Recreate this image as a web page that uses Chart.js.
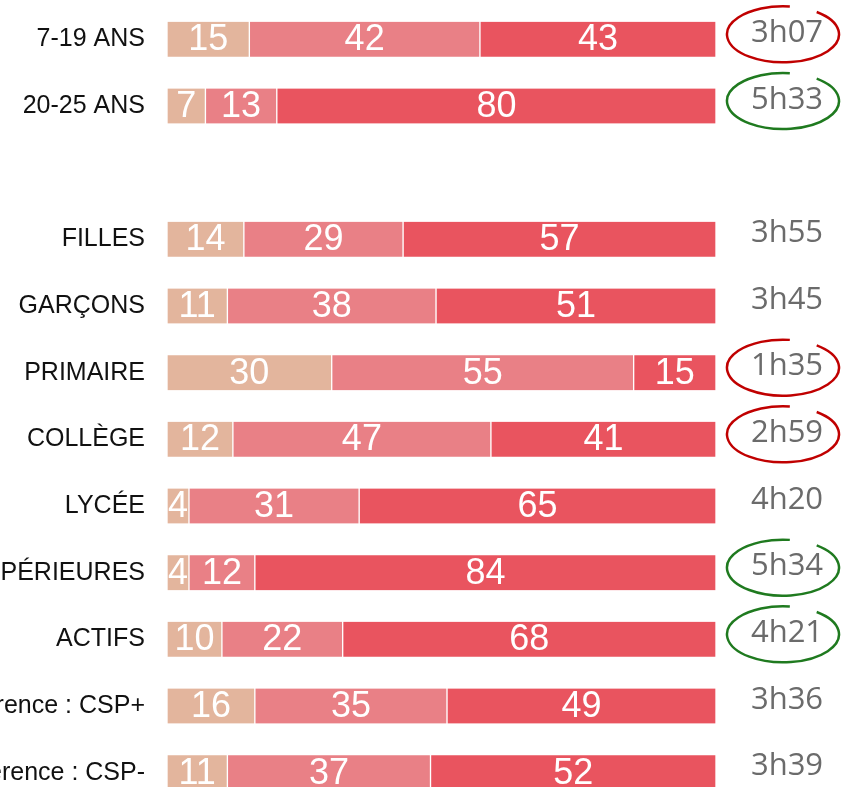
<!DOCTYPE html>
<html>
<head>
<meta charset="utf-8">
<script src="https://cdn.jsdelivr.net/npm/chart.js@4"></script>
<style>
  html, body { margin: 0; padding: 0; background: #fff; overflow: hidden; }
  #wrap { position: relative; width: 841px; height: 812px; }
</style>
</head>
<body>
<div id="wrap"><canvas id="chart"></canvas></div>
<script>
// categories (the empty one is the gap between the age rows and the others)
const categories = ['7-19 ANS', '20-25 ANS', '', 'FILLES', 'GARÇONS', 'PRIMAIRE', 'COLLÈGE', 'LYCÉE',
  'SUPÉRIEURES', 'ACTIFS', 'Référence : CSP+', 'Référence : CSP-'];

// shares (%) for the three segments of each bar
const share1 = [15, 7, null, 14, 11, 30, 12, 4, 4, 10, 16, 11];
const share2 = [42, 13, null, 29, 38, 55, 47, 31, 12, 22, 35, 37];
const share3 = [43, 80, null, 57, 51, 15, 41, 65, 84, 68, 49, 52];

// time shown at the right of each bar, and which ones are circled
const durations = ['3h07', '5h33', '', '3h55', '3h45', '1h35', '2h59', '4h20', '5h34', '4h21', '3h36', '3h39'];
const highlight = ['low', 'high', null, null, null, 'low', 'low', null, 'high', 'high', null, null];

const colors = ['#E3B59D', '#E98086', '#E9545F'];
const circleColors = { low: '#C00000', high: '#1F7A1F' };

// white numbers inside the segments
const segmentLabels = {
  id: 'segmentLabels',
  afterDatasetsDraw(chart) {
    const ctx = chart.ctx;
    ctx.save();
    ctx.fillStyle = '#fff';
    ctx.font = '36px "Liberation Sans", Arial, sans-serif';
    ctx.textAlign = 'center';
    ctx.textBaseline = 'middle';
    chart.data.datasets.forEach((ds, i) => {
      chart.getDatasetMeta(i).data.forEach((bar, j) => {
        const v = ds.data[j];
        if (v == null) return;
        const cx = (bar.x + bar.base) / 2;
        ctx.fillText(String(v), cx, bar.y + 1);
      });
    });
    ctx.restore();
  }
};

// durations on the right, with open ellipses around some of them
const durationLabels = {
  id: 'durationLabels',
  afterDraw(chart) {
    const ctx = chart.ctx;
    const y = chart.scales.y;
    ctx.save();
    ctx.font = '31px "Open Sans", sans-serif';
    ctx.fillStyle = '#6B6B6B';
    ctx.textAlign = 'center';
    ctx.textBaseline = 'middle';
    durations.forEach((txt, i) => {
      if (!txt) return;
      const cy = y.getPixelForValue(i) - 6;
      ctx.fillText(txt, 787, cy);
      const h = highlight[i];
      if (h) {
        ctx.beginPath();
        ctx.strokeStyle = circleColors[h];
        ctx.lineWidth = 2.5;
        ctx.ellipse(783, cy + 1, 56, 28, 0, -53 * Math.PI / 180, -83 * Math.PI / 180, false);
        ctx.stroke();
      }
    });
    ctx.restore();
  }
};

new Chart(document.getElementById('chart'), {
  type: 'bar',
  data: {
    labels: categories,
    datasets: [share1, share2, share3].map((d, i) => ({
      data: d,
      backgroundColor: colors[i],
      borderColor: '#fff',
      borderWidth: { left: 1, right: 1, top: 0, bottom: 0 },
      borderSkipped: false,
      barThickness: 35
    }))
  },
  options: {
    indexAxis: 'y',
    responsive: true,
    maintainAspectRatio: false,
    animation: false,
    layout: { padding: { left: 0, right: 125, top: 6, bottom: 6 } },
    plugins: {
      legend: { display: false },
      tooltip: { enabled: false }
    },
    scales: {
      x: { stacked: true, min: 0, max: 100, display: false },
      y: {
        stacked: true,
        grid: { display: false, drawTicks: true, tickLength: 22 },
        border: { display: false },
        ticks: {
          autoSkip: false,
          padding: 0,
          color: '#111',
          font: { family: '"Liberation Sans", Arial, sans-serif', size: 25, lineHeight: 0.3 }
        },
        afterFit(scale) { scale.width = 167; }
      }
    }
  },
  plugins: [segmentLabels, durationLabels]
});
</script>
</body>
</html>
